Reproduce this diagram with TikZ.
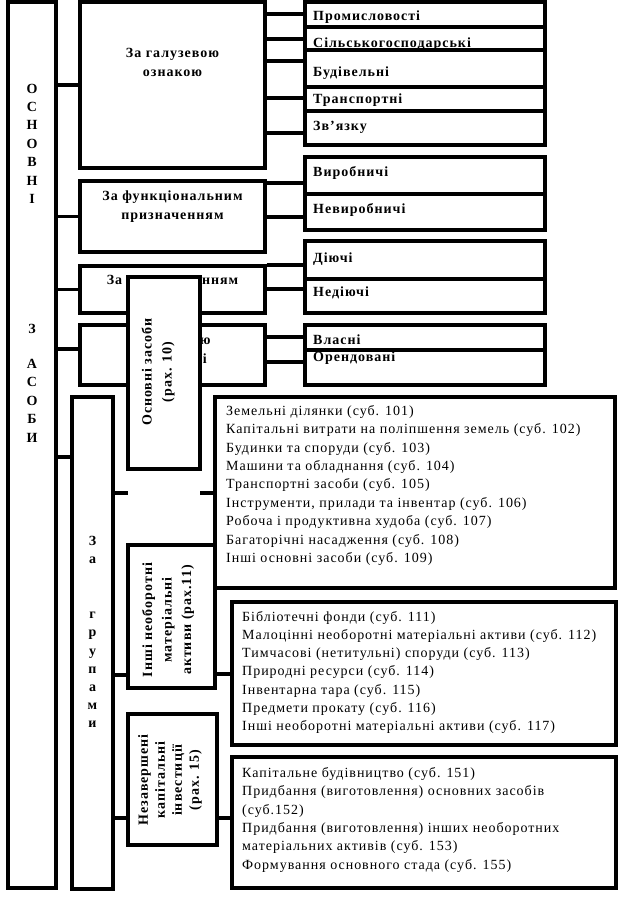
\documentclass[tikz,border=0pt]{standalone}
\usepackage{fontspec}
\setmainfont{Liberation Serif}[LetterSpace=7]
\begin{document}
\begin{tikzpicture}[x=1pt,y=-1pt,
  box/.style={draw,line width=3.4pt,inner sep=0pt},
  wbox/.style={box,fill=white},
  conn/.style={line width=3.4pt},
  bt/.style={font=\bfseries\fontsize{14}{19}\selectfont,inner sep=0pt},
  lt/.style={font=\fontsize{14}{18.4}\selectfont,inner sep=0pt,align=left,anchor=north west},
  ct/.style={bt,align=center,anchor=north}]
\useasboundingbox[fill=white] (0,0) rectangle (618,914);

% texts drawn under boxes
\node[bt,anchor=base west] (t1) at (313,20.5) {Промисловості};
\node[bt,anchor=base west] (t2) at (313,47.5) {Сільськогосподарські};
\node[bt,anchor=base west] (t3) at (313,76) {Будівельні};
\node[bt,anchor=base west] (t4) at (313,103) {Транспортні};
\node[bt,anchor=base west] (t5) at (313,130.5) {Зв’язку};
\node[bt,anchor=base west] (t6) at (313,176.5) {Виробничі};
\node[bt,anchor=base west] (t7) at (313,213) {Невиробничі};
\node[bt,anchor=base west] (t8) at (313,262) {Діючі};
\node[bt,anchor=base west] (t9) at (313,296.5) {Недіючі};
\node[bt,anchor=base west] (t10) at (313,344) {Власні};
\node[bt,anchor=base west] (t11) at (313,361.5) {Орендовані};

% left column
\node[box,minimum width=48,minimum height=886] (osn) at (32,445) {};
\node[bt,align=center,font=\bfseries\fontsize{14}{18.4}\selectfont] (osntxt) at (32,263)
  {О\\С\\Н\\О\\В\\Н\\І\\[111.6pt]З\\[16.6pt]А\\С\\О\\Б\\И};

% category boxes
\node[box,minimum width=185,minimum height=166] (g1) at (172.5,85) {};
\node[box,minimum width=185,minimum height=71] (g2) at (172.5,216.5) {};
\node[box,minimum width=185,minimum height=47] (g3) at (172.5,289.5) {};
\node[box,minimum width=185,minimum height=60] (g4) at (172.5,355) {};
\node[ct] (g1t) at (172.5,48) {За галузевою\\ознакою};
\node[ct] (g2t) at (172.5,190.5) {За функціональним\\призначенням};
\node[ct] (g3t) at (172.5,275) {За використанням};
\node[ct] (g4t) at (172.5,334.5) {За формою\\власності};

% right cells
\node[box,minimum width=240,minimum height=25] (r1) at (425,14.5) {};
\node[box,minimum width=240,minimum height=23] (r2) at (425,38.5) {};
\node[box,minimum width=240,minimum height=37] (r3) at (425,68.5) {};
\node[box,minimum width=240,minimum height=24] (r4) at (425,99) {};
\node[box,minimum width=240,minimum height=34] (r5) at (425,128) {};
\node[box,minimum width=240,minimum height=37] (f1) at (425,175.5) {};
\node[box,minimum width=240,minimum height=36] (f2) at (425,212) {};
\node[box,minimum width=240,minimum height=38] (u1) at (425,260) {};
\node[box,minimum width=240,minimum height=34] (u2) at (425,296) {};
\node[box,minimum width=240,minimum height=25] (v1) at (425,337.5) {};
\node[box,minimum width=240,minimum height=35] (v2) at (425,367.5) {};

% connectors left column -> categories
\draw[conn] (osn.east |- g1.west) -- (g1.west);
\draw[conn] (osn.east |- g2.west) -- (g2.west);
\draw[conn] (osn.east |- g3.west) -- (g3.west);
\draw[conn] (osn.east |- 0,349) -- (g4.west |- 0,349);

% categories -> cells
\draw[conn] (g1.east |- 0,14) -- (r1.west |- 0,14);
\draw[conn] (g1.east |- 0,39) -- (r2.west |- 0,39);
\draw[conn] (g1.east |- 0,61) -- (r3.west |- 0,61);
\draw[conn] (g1.east |- 0,98) -- (r4.west |- 0,98);
\draw[conn] (g1.east |- 0,133) -- (r5.west |- 0,133);
\draw[conn] (g2.east |- 0,183) -- (f1.west |- 0,183);
\draw[conn] (g2.east |- 0,217) -- (f2.west |- 0,217);
\draw[conn] (g3.east |- 0,265) -- (u1.west |- 0,265);
\draw[conn] (g3.east |- 0,289) -- (u2.west |- 0,289);
\draw[conn] (g4.east |- 0,337) -- (v1.west |- 0,337);
\draw[conn] (g4.east |- 0,362) -- (v2.west |- 0,362);

% groups
\node[box,minimum width=41,minimum height=492] (grp) at (92.5,643) {};
\node[bt,align=center,font=\bfseries\fontsize{14}{18.2}\selectfont] (grptxt) at (92.5,632)
  {З\\а\\[36.8pt]г\\р\\у\\п\\а\\м\\и};
\draw[conn] (osn.east |- 0,457) -- (grp.west |- 0,457);

\node[box,minimum width=400,minimum height=191] (zem) at (415,492.5) {};
\node[box,minimum width=384,minimum height=143] (bib) at (424,673.5) {};
\node[box,minimum width=384,minimum height=131] (kap) at (424,822.5) {};
\node[lt] (zemt) at (226,405) {Земельні ділянки (суб. 101)\\Капітальні витрати на поліпшення земель (суб. 102)\\Будинки та споруди (суб. 103)\\Машини та обладнання (суб. 104)\\Транспортні засоби (суб. 105)\\Інструменти, прилади та інвентар (суб. 106)\\Робоча і продуктивна худоба (суб. 107)\\Багаторічні насадження (суб. 108)\\Інші основні засоби (суб. 109)};
\node[lt,font=\fontsize{14}{18.2}\selectfont] (bibt) at (242,611) {Бібліотечні фонди (суб. 111)\\Малоцінні необоротні матеріальні активи (суб. 112)\\Тимчасові (нетитульні) споруди (суб. 113)\\Природні ресурси (суб. 114)\\Інвентарна тара (суб. 115)\\Предмети прокату (суб. 116)\\Інші необоротні матеріальні активи (суб. 117)};
\node[lt] (kapt) at (242,767) {Капітальне будівництво (суб. 151)\\Придбання (виготовлення) основних засобів\\(суб.152)\\Придбання (виготовлення) інших необоротних\\матеріальних активів (суб. 153)\\Формування основного стада (суб. 155)};

\node[wbox,minimum width=72,minimum height=192] (os10) at (164,373) {};
\node[bt,align=center,rotate=90,font=\bfseries\fontsize{14}{20}\selectfont] (os10t) at (158,372) {Основні засоби\\(рах. 10)};
\node[wbox,minimum width=87,minimum height=143] (in11) at (171.5,616.5) {};
\node[bt,align=center,rotate=90,font=\bfseries\fontsize{14}{19.5}\selectfont] (in11t) at (168,620) {Інші необоротні\\матеріальні\\активи (рах.11)};
\node[wbox,minimum width=89,minimum height=131] (nez) at (172.5,779.5) {};
\node[bt,align=center,rotate=90,font=\bfseries\fontsize{14}{17}\selectfont] (nezt) at (170,780) {Незавершені\\капітальні\\інвестиції\\(рах. 15)};

% group connectors
\coordinate (a1) at (128,493);
\coordinate (a2) at (200,493);
\draw[conn] (grp.east |- a1) -- (a1);
\draw[conn] (a2) -- (zem.west |- a2);
\draw[conn] (grp.east |- 0,675) -- (in11.west |- 0,675);
\draw[conn] (in11.east |- 0,674) -- (bib.west |- 0,674);
\draw[conn] (grp.east |- 0,818) -- (nez.west |- 0,818);
\draw[conn] (nez.east |- 0,818) -- (kap.west |- 0,818);
\end{tikzpicture}
\end{document}
